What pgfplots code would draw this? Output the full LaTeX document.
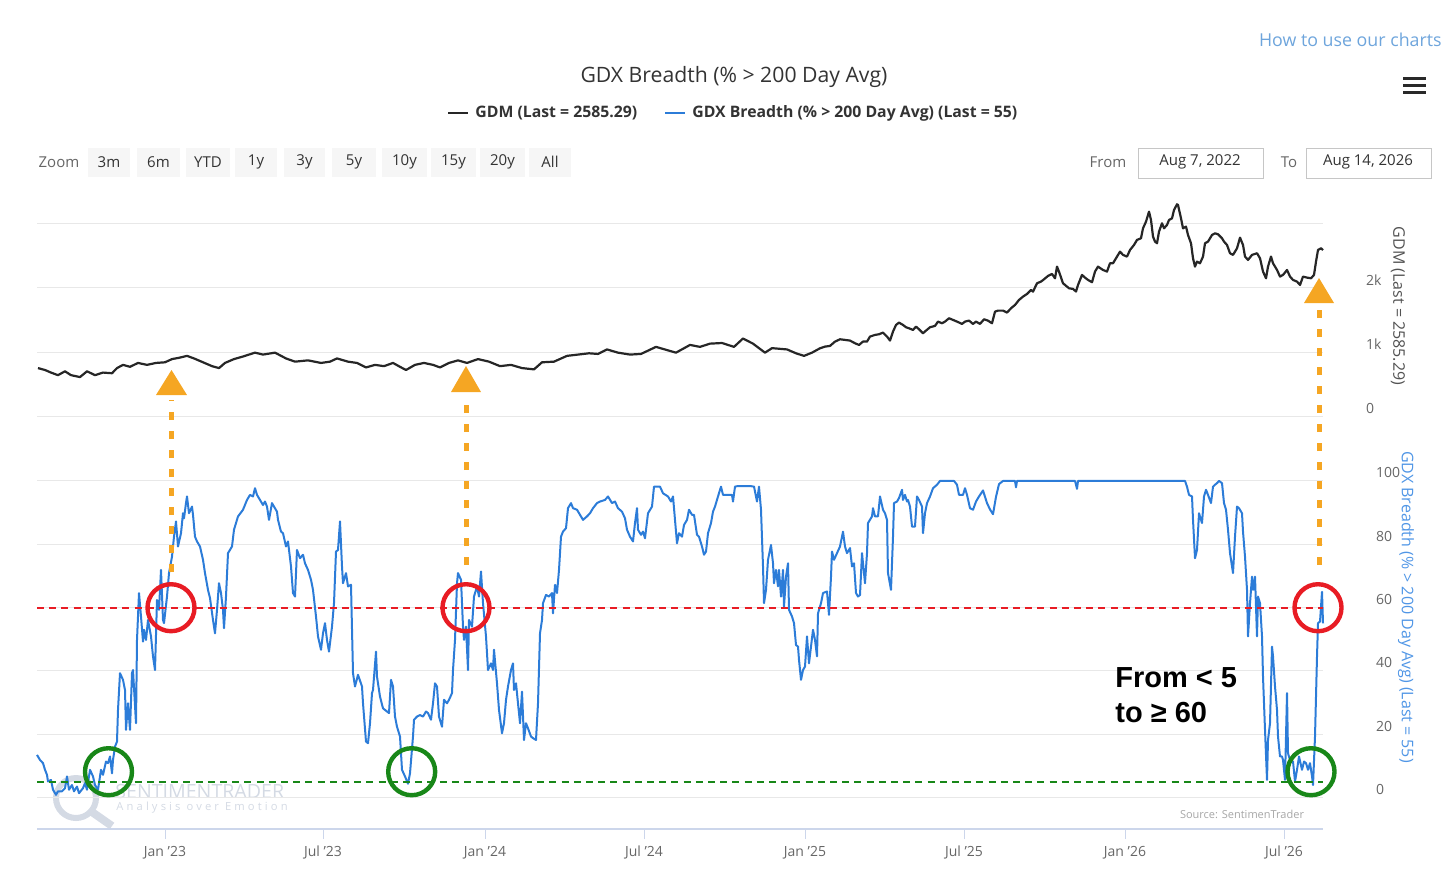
\documentclass[border=0pt]{standalone}
\usepackage{fontspec}
\setmainfont{Open Sans}
\newfontfamily\arialfont{Liberation Sans}
\usepackage{pgfplots}
\pgfplotsset{compat=1.18}
\definecolor{gdxblue}{RGB}{44,124,216}
\definecolor{gdxlabel}{RGB}{80,150,230}
\definecolor{gdmblack}{RGB}{38,38,38}
\definecolor{gridc}{RGB}{232,232,232}
\definecolor{axisc}{RGB}{204,214,235}
\definecolor{labelc}{RGB}{102,102,102}
\definecolor{titlec}{RGB}{51,51,51}
\definecolor{orangeA}{RGB}{245,166,35}
\definecolor{redA}{RGB}{232,28,36}
\definecolor{greenA}{RGB}{24,135,24}
\definecolor{linkc}{RGB}{110,165,220}
\definecolor{btnbg}{RGB}{246,246,246}
\definecolor{wmark}{RGB}{212,218,228}
\newcommand{\fs}[1]{\fontsize{#1}{#1}\selectfont}
\begin{document}
\begin{tikzpicture}
\path[use as bounding box] (0,0) rectangle (728pt,-434.5pt);
% ---------------- header and watermark (px coordinates) ----------------
\begin{scope}[x=0.5pt,y=-0.5pt]
\node[anchor=east, text=linkc, inner sep=0] at (1442,40) {\fs{8.9}How to use our charts};
\node[text=titlec, inner sep=0] at (734,77) {\fs{10.6}GDX Breadth (\% > 200 Day Avg)};
\draw[titlec!80!black, line width=1.5pt] (1403,78) -- (1426,78);
\draw[titlec!80!black, line width=1.5pt] (1403,85) -- (1426,85);
\draw[titlec!80!black, line width=1.5pt] (1403,92) -- (1426,92);
% legend
\draw[gdmblack, line width=1.2pt] (448,113) -- (468,113);
\node[anchor=west, text=titlec, inner sep=0] at (475,113) {\fs{7.9}\bfseries GDM (Last = 2585.29)};
\draw[gdxblue, line width=1.2pt] (665,113) -- (685,113);
\node[anchor=west, text=titlec, inner sep=0] at (692,113) {\fs{7.9}\bfseries GDX Breadth (\% > 200 Day Avg) (Last = 55)};
% zoom buttons
\node[text=labelc, inner sep=0] at (59,162) {\fs{7.5}Zoom};
\foreach \a/\b/\t in {88/130/3m,137/180/6m,186/230/YTD,235/277/1y,284/325/3y,332/376/5y,382/427/10y,431/476/15y,480/525/20y,529/571/All}{
  \fill[btnbg] (\a,148) rectangle (\b,177);
  \node[text=titlec, inner sep=0] at ({(\a+\b)/2},162) {\fs{7.5}\t};
}
\node[text=labelc, inner sep=0] at (1108,162) {\fs{7.5}From};
\draw[gray!45, line width=0.5pt, fill=white] (1138,148) rectangle (1263,178);
\node[text=titlec, inner sep=0] at (1200,162) {\fs{7.5}Aug 7, 2022};
\node[text=labelc, inner sep=0] at (1289,162) {\fs{7.5}To};
\draw[gray!45, line width=0.5pt, fill=white] (1306,148) rectangle (1431,178);
\node[text=titlec, inner sep=0] at (1368,162) {\fs{7.5}Aug 14, 2026};
% watermark
\draw[wmark, line width=3pt] (76,798) circle[radius=10pt];
\draw[wmark, line width=4pt] (92,812) -- (112,826);
\node[text=wmark, inner sep=0, anchor=west] at (115,791) {\fs{9.8}SENTIMENTRADER};
\node[text=wmark, inner sep=0, anchor=west] at (116,808) {\fs{5.6}\addfontfeature{LetterSpace=28}Analysis over Emotion};
\node[text=gray!70, inner sep=0] at (1242,814) {\fs{5.5}Source: SentimenTrader};
% axis titles
\node[rotate=-90, text=labelc!80!black, inner sep=0] at (1398,306) {\fs{8}GDM (Last = 2585.29)};
\node[rotate=-90, text=gdxlabel, inner sep=0] at (1406,607) {\fs{8}GDX Breadth (\% > 200 Day Avg) (Last = 55)};
\end{scope}
% ---------------- top panel: GDM ----------------
\begin{axis}[
  scale only axis, width=643pt, height=109.15pt,
  at={(18.5pt,-208.15pt)}, anchor=south west,
  xmin=37, xmax=1323, ymin=0, ymax=3395,
  axis line style={draw=none},
  xtick=\empty,
  ytick={0,1000,2000,3000}, yticklabels={0,1k,2k,{}},
  ymajorgrids, grid style={gridc, line width=0.5pt},
  yticklabel pos=right, ytick style={draw=none},
  yticklabel style={anchor=west, xshift=18pt, yshift=4pt},
  tick label style={font=\fs{7}, text=labelc},
  /pgf/number format/assume math mode=true,
  clip=false
]
\addplot[gdmblack, line width=1.1pt, line join=round] coordinates {
(38,750)(45,720)(51,680)(58,640)(65,700)(71,640)(80,610)(87,700)(95,640)(103,680)(112,670)(117,750)(123,800)(130,770)(138,830)(147,800)(156,830)(165,840)(172,890)(179,910)(187,940)(194,900)(203,840)(212,780)(219,750)(225,830)(234,890)(243,930)(255,990)(263,960)(275,990)(286,900)(295,850)(308,870)(321,830)(330,850)(337,900)(348,850)(357,830)(366,760)(375,800)(384,780)(393,830)(400,770)(406,720)(415,800)(424,830)(433,800)(440,760)(449,830)(458,870)(467,830)(478,890)(489,850)(500,780)(511,800)(522,750)(534,730)(542,840)(554,850)(567,940)(578,960)(589,980)(598,970)(607,1040)(618,990)(630,960)(641,970)(656,1080)(667,1030)(676,990)(690,1110)(700,1080)(710,1130)(722,1140)(734,1080)(743,1210)(753,1130)(765,990)(772,1060)(787,1040)(796,980)(804,940)(812,990)
(820,1058)(825,1084)(830,1095)(835,1162)(840,1198)(845,1188)(850,1178)(855,1136)(859,1110)(863,1162)(867,1162)(870,1240)(875,1266)(879,1276)(883,1302)(887,1240)(890,1178)(893,1318)(896,1421)(899,1457)(903,1421)(906,1385)(909,1369)(913,1343)(916,1395)(919,1354)(923,1292)(926,1333)(930,1385)(935,1406)(938,1473)(942,1447)(945,1473)(949,1525)(953,1499)(957,1473)(962,1437)(965,1473)(969,1488)(973,1437)(976,1473)(980,1437)(984,1509)(988,1488)(992,1447)(995,1628)(998,1644)(1003,1644)(1007,1613)(1011,1680)(1015,1732)(1019,1810)(1023,1861)(1027,1903)(1031,1965)(1033,1939)(1037,2069)(1041,2095)(1044,2131)(1048,2183)(1052,2214)(1055,2146)(1057,2328)(1059,2250)(1063,2069)(1067,2017)(1069,1991)
(1073,1981)(1076,1940)(1078,2043)(1082,2199)(1085,2157)(1088,2121)(1092,2085)(1095,2251)(1098,2328)(1103,2276)(1107,2251)(1110,2380)(1113,2380)(1117,2484)(1120,2561)(1123,2510)(1127,2484)(1130,2587)(1134,2665)(1137,2743)(1141,2769)(1143,2924)(1146,3028)(1149,3183)(1151,3053)(1153,2795)(1155,2717)(1157,2691)(1159,2872)(1162,3002)(1164,2924)(1167,2976)(1169,3053)(1172,3079)(1174,3209)(1177,3297)(1178,3287)(1181,3079)(1183,2924)(1186,2950)(1188,2820)(1191,2691)(1193,2458)(1195,2328)(1197,2406)(1200,2380)(1203,2484)(1205,2691)(1208,2717)(1212,2820)(1215,2846)(1218,2831)(1222,2769)(1224,2717)(1227,2665)(1230,2536)(1233,2510)(1237,2613)(1240,2779)(1243,2665)(1245,2484)(1248,2432)(1252,2510)(1257,2536)(1260,2458)(1263,2251)(1266,2147)(1268,2328)(1271,2484)(1273,2380)(1277,2276)(1280,2173)(1283,2199)(1287,2276)(1290,2173)(1293,2121)(1297,2095)(1300,2043)(1303,2173)(1307,2157)(1311,2147)(1314,2199)(1316,2406)(1318,2587)(1321,2613)(1323,2585)
};
\end{axis}
% ---------------- bottom panel: GDX breadth ----------------
\begin{axis}[
  scale only axis, width=643pt, height=179.5pt,
  at={(18.5pt,-414.5pt)}, anchor=south west,
  xmin=37, xmax=1323, ymin=-9.9, ymax=103.45,
  axis line style={draw=none},
  xtick={165,323,485,644,805,964,1125,1284},
  xticklabels={Jan '23,Jul '23,Jan '24,Jul '24,Jan '25,Jul '25,Jan '26,Jul '26},
  xtick pos=bottom, tick align=outside, major tick length=5pt,
  xtick style={axisc, line width=0.5pt},
  ytick={0,20,40,60,80,100},
  ymajorgrids, grid style={gridc, line width=0.5pt},
  yticklabel pos=right, ytick style={draw=none},
  yticklabel style={anchor=west, xshift=18pt, yshift=4pt},
  tick label style={font=\fs{7}, text=labelc},
  /pgf/number format/assume math mode=true,
  clip=false
]
\draw[axisc, line width=0.6pt] (rel axis cs:0,0) -- (rel axis cs:1,0);
\addplot[gdxblue, line width=1pt, line join=round] coordinates {
(37,13.5)(40,11.9)(43,10.9)(45,8.8)(47,7.2)(48,5.1)(51,5.6)(53,2.5)(56,0.9)(58,2)(62,2)(65,3)(67,6.7)(69,2.5)(72,4)(74,2)(77,3.5)(79,1.4)(83,3)(85,4.6)(87,2.5)(90,8.8)(93,6.7)(95,4)(98,2.5)(101,8.8)(103,7.2)(106,11.4)(108,10.9)(110,13)(112,7.7)(113,11.9)(115,16.1)(117,17.7)(118,27.7)(120,39.3)(123,37.2)(125,34)(126,21.4)(128,29.8)(130,21.4)(132,39.3)(133,40.3)(136,23.5)(137,49.8)(139,64.6)(141,57.2)(143,49.3)(144,53)(146,49.8)(148,56.1)(151,50.9)(153,44.6)(155,40.3)(157,62.4)(159,59.3)(161,71.9)(163,56.1)(164,55.1)(167,63.5)(169,70.9)(172,76.1)(174,82.4)(176,87.2)(178,79.3)(181,83.5)(183,89.8)(184,88.2)(186,93)(187,95.1)(189,89.8)(192,91.9)(193,89.3)(195,82.4)(197,80.9)(200,79.3)(203,75.1)(205,70.9)(208,65.6)(210,63)(213,56.1)(215,51.9)(217,59.3)(219,67.7)(221,64.6)(223,59.3)(224,53.5)(226,63.5)(228,77.2)(232,79.3)(234,84.6)(238,88.8)(243,90.9)(247,94)(250,95.6)(253,95.1)(255,97.7)(257,95.6)(260,94)(263,92.4)(265,93.5)(267,91.9)(269,87.7)(272,93)(274,91.9)(277,90.3)(278,87.7)(281,84)(283,83.5)(286,79.3)(288,80.9)(291,73)(293,64.6)(295,63.5)(297,78.2)(300,75.6)(303,76.7)(305,74)(308,71.9)(311,68.8)(313,65.6)(316,57.2)(318,50.9)(321,46.7)(323,51.9)(325,55.1)(327,49.8)(329,46.1)(332,54)(334,61.4)(336,77.7)(338,78.2)(340,87.2)(342,73)(343,67.7)(346,70.9)(348,66.7)(351,67.2)(353,39.3)(355,35.1)(358,38.8)
(362,35.1)(363,29.8)(366,17.7)(368,17.2)(370,23.5)(372,33)(373,34)(376,46.1)(377,38.2)(380,31.9)(383,28.2)(387,27.2)(389,26.7)(391,37.2)(393,35.1)(395,25.6)(397,22.4)(400,19.3)(402,8.8)(405,6.7)(408,4.4)(410,7.7)(413,19.3)(414,24.6)(417,25.6)(420,26.1)(423,25.6)(426,27.2)(428,26.7)(431,24.6)(433,29.8)(435,36.1)(437,35.1)(439,25.6)(442,22.4)(444,30.9)(447,29.8)(449,30.9)(452,33)(453,40.3)(455,49.8)(457,67.7)(458,70.9)(461,68.8)(463,54)(464,49.8)(466,54)(468,40.3)(469,56.1)(472,54)(474,63.5)(477,66.7)(479,63.5)(481,71.4)(483,61.4)(486,50.9)(488,40.3)(491,42.4)(493,40.3)(494,46.7)(497,36.1)(499,27.7)(502,20.3)(504,23.5)(506,30.9)(508,35.1)(511,40.3)(513,42.4)(514,34)(516,36.1)(518,29.8)(520,23.5)(522,33.5)(524,18.2)(526,23.5)(528,21.9)(531,19.3)(533,18.8)(536,18.2)(538,29.8)(540,51.9)(542,56.1)(543,61.4)(546,64)(549,63.5)(552,64.6)(553,58.2)(555,67.2)(557,64.6)(559,71.9)(561,82.4)(563,84)(566,85.1)(568,91.4)(571,93)(573,91.4)(577,90.9)(580,89.3)(583,87.7)(587,88.8)(590,89.8)(593,91.4)(597,93)(600,93.5)(605,94)(608,95.1)(612,93)(615,93.5)(618,91.4)(622,90.3)(625,88.2)(627,84.6)(630,82.4)(633,80.9)(635,86.7)(637,91.4)(638,84.6)(641,83)(643,84)(645,81.9)(648,89.8)(652,91.9)(654,98.2)(658,98.2)
(660,98.2)(663,96.1)(668,95.1)(671,93.5)(673,95.1)(675,87.7)(677,80.3)(679,83.5)(682,82.4)(684,86.1)(687,87.7)(689,90.9)(692,89.3)(694,89.3)(697,83)(699,82.4)(702,79.3)(704,76.7)(706,77.7)(708,83.5)(711,86.7)(713,90.3)(715,91.9)(718,95.1)(721,98.2)(723,95.6)(728,95.6)(732,95.6)(733,93.5)(735,98.2)(738,98.4)(750,98.4)(754,98.2)(756,95.1)(757,93.5)(759,98.2)(761,90.9)(763,73)(764,61.4)(766,65.6)(768,75.1)(771,79.8)(773,74)(774,67.7)(776,71.9)(778,66.7)(779,71.9)(781,63.5)(783,71.9)(784,60.3)(786,69.8)(788,74)(789,59.3)(792,57.2)(794,55.1)(796,48.2)(798,47.7)(799,43.5)(801,37.2)(803,40.3)(805,41.4)(807,50.9)(809,42.4)(811,47.7)(813,53)(815,49.8)(817,44.6)(818,58.2)(821,61.4)(823,64.6)(827,65.1)(829,57.7)(831,69.8)(832,77.7)(834,75.1)(837,77.2)(840,79.3)(843,84)(845,79.3)(847,77.2)(850,78.8)(852,73)(854,74)(856,64.6)(858,63.5)(860,64)(862,77.2)(865,67.7)(867,77.2)(868,86.7)(872,88.8)(873,91.4)(875,88.8)(878,88.8)(880,95.1)(883,90.9)(885,89.8)(887,87.7)(888,70.9)(891,65.6)(893,82.4)(894,93)(897,93.5)(899,94.6)(902,97.2)(903,94)(905,95.6)(907,93.5)(908,94)(910,91.9)(912,85.6)(915,85.6)(917,95.1)(919,94)(922,91.9)(923,83.5)(925,89.8)(927,93)(930,95.1)(933,97.7)(937,98.8)(940,100)(954,100)(957,98.8)(959,95.6)(963,95.6)(965,97.7)(967,95.6)(970,91.4)(973,90.9)(976,93.5)(979,95.1)
(983,97)(987,93)(990,91)(993,89.5)(996,95)(999,99)(1003,100)(1015,100)(1016,98)(1017,100)(1075,100)(1077,97.5)(1078,100)(1185,100)(1187,98.2)(1189,95.6)(1192,95.1)(1193,87.7)(1195,75.6)(1197,78.2)(1199,89.8)(1202,86.7)(1204,95.1)(1206,97.2)(1208,95.6)(1211,93)(1213,98.2)(1215,98.8)(1217,99.3)(1219,100)(1222,99.3)(1224,93)(1226,90.9)(1228,84.6)(1230,77.2)(1232,73)(1233,70.9)(1235,82.4)(1237,91.9)(1239,91.4)(1242,89.8)(1243,84)(1245,76.1)(1247,65.6)(1248,50.9)(1250,61.4)(1252,69.8)(1253,65.6)(1255,69.8)(1257,50.9)(1258,63.5)(1260,61.4)(1262,50.9)(1263,38.2)(1265,21.4)(1267,5.6)(1268,18.2)(1270,23.5)(1272,47.7)(1273,44.6)(1275,35.1)(1277,27.7)(1278,19.3)(1280,13)(1282,13)(1283,11.9)(1285,5.6)(1287,33)(1288,14)(1290,11.9)(1293,11.4)(1295,5.1)(1297,8.8)(1299,13)(1302,8.8)(1304,11.4)(1306,10.9)(1308,8.8)(1310,10.9)(1312,6.7)(1313,4)(1315,19.3)(1317,44.6)(1318,55.1)(1320,55.6)(1322,65)(1323,55)
};
\draw[redA, line width=1pt, dash pattern=on 3.5pt off 2.6pt] (axis cs:37,60) -- (axis cs:1323,60);
\draw[greenA, line width=1.3pt, dash pattern=on 3.5pt off 2.6pt] (axis cs:37,5) -- (axis cs:1323,5);
\end{axis}
% ---------------- annotations (px coordinates) ----------------
\begin{scope}[x=0.5pt,y=-0.5pt]
\draw[orangeA, line width=2.5pt, dash pattern=on 4pt off 5.5pt] (171.5,572) -- (171.5,400);
\fill[orangeA] (156,395) -- (171.5,370) -- (187,395) -- cycle;
\draw[orangeA, line width=2.5pt, dash pattern=on 4pt off 5.5pt] (466,565) -- (466,397);
\fill[orangeA] (451,392) -- (466,366) -- (481,392) -- cycle;
\draw[orangeA, line width=2.5pt, dash pattern=on 4pt off 5.5pt] (1319,565) -- (1319,308);
\fill[orangeA] (1304,303) -- (1319,278) -- (1334,303) -- cycle;
\draw[redA, line width=2.2pt] (171,607.7) circle[radius=11.75pt];
\draw[redA, line width=2.2pt] (466,607.7) circle[radius=11.75pt];
\draw[redA, line width=2.2pt] (1318,607.7) circle[radius=11.75pt];
\draw[greenA, line width=2.2pt] (108.5,771.7) circle[radius=11.75pt];
\draw[greenA, line width=2.2pt] (411.7,771.7) circle[radius=11.75pt];
\draw[greenA, line width=2.2pt] (1311,771.7) circle[radius=11.75pt];
\node[anchor=base west, inner sep=0] at (1115,687) {\arialfont\bfseries\fs{14.5}From < 5};
\node[anchor=base west, inner sep=0] at (1115,722) {\arialfont\bfseries\fs{14.5}to ≥ 60};
\end{scope}
\end{tikzpicture}
\end{document}
